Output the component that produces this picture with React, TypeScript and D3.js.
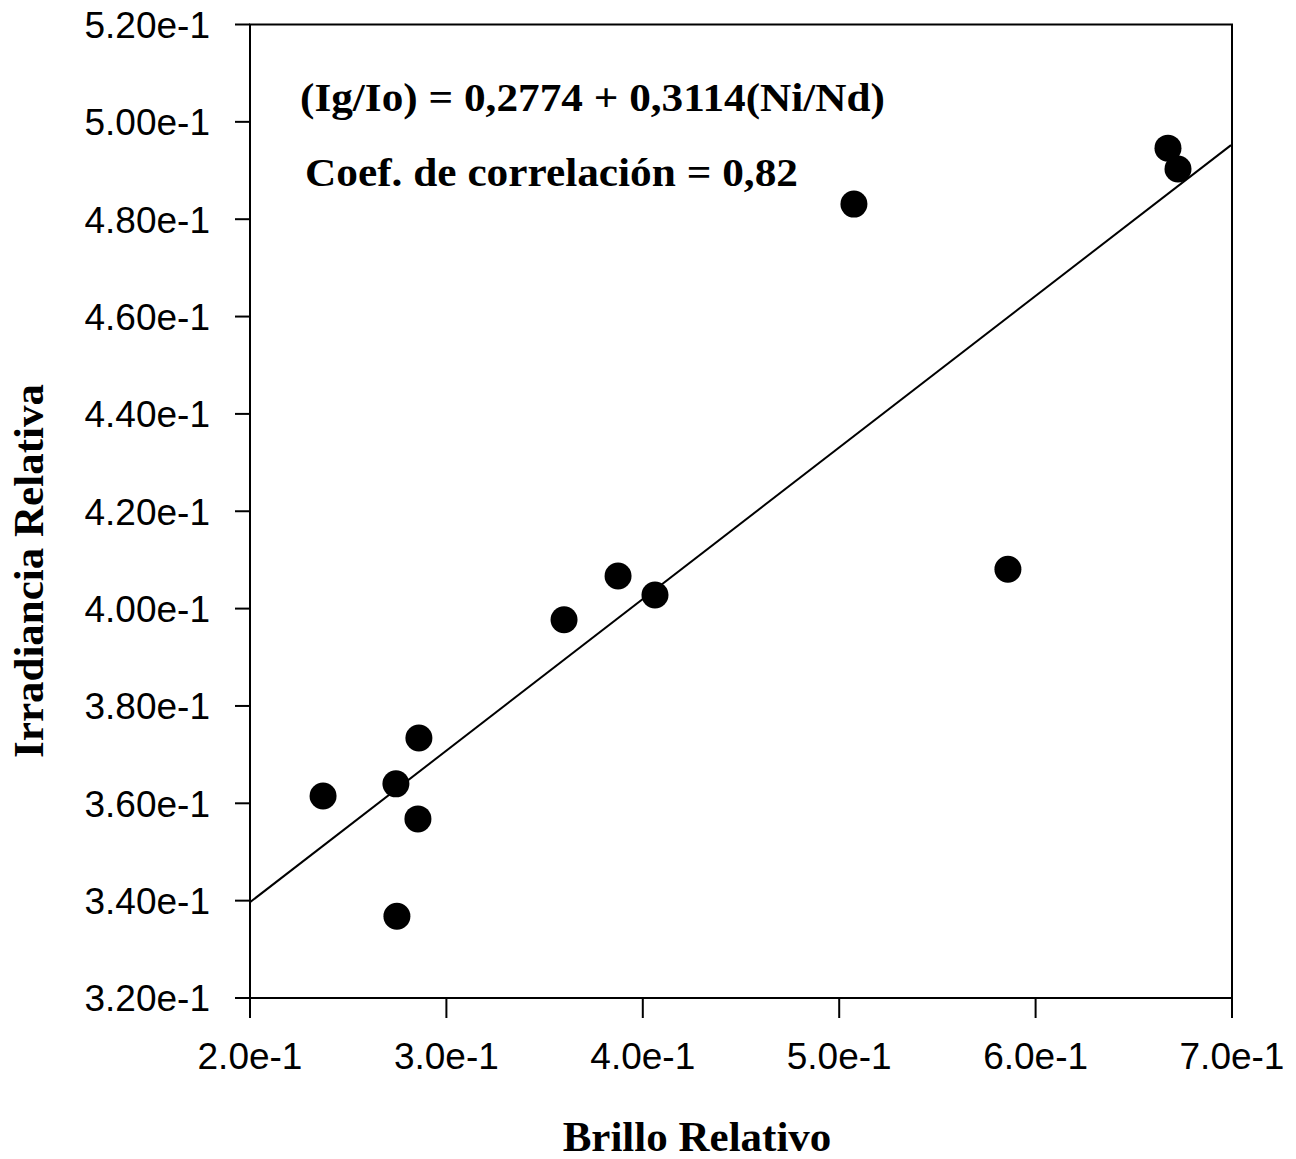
import * as d3 from "d3";

// brillo relativo (x) and irradiancia relativa (y)
const brillo = [0.2372, 0.2743, 0.286, 0.2855, 0.2748, 0.3599, 0.3874, 0.4062, 0.5075, 0.5859, 0.6674, 0.6725];
const irradiancia = [0.3615, 0.364, 0.3734, 0.3568, 0.3368, 0.3977, 0.4067, 0.4028, 0.4831, 0.4081, 0.4946, 0.4903];

const xTicks = [0.2, 0.3, 0.4, 0.5, 0.6, 0.7];
const xTickLabels = ["2.0e-1", "3.0e-1", "4.0e-1", "5.0e-1", "6.0e-1", "7.0e-1"];
const yTicks = [0.32, 0.34, 0.36, 0.38, 0.4, 0.42, 0.44, 0.46, 0.48, 0.5, 0.52];
const yTickLabels = [
  "3.20e-1", "3.40e-1", "3.60e-1", "3.80e-1", "4.00e-1", "4.20e-1",
  "4.40e-1", "4.60e-1", "4.80e-1", "5.00e-1", "5.20e-1",
];

const intercept = 0.2774;
const slope = 0.3114;
const fitRange = [0.2, 0.6995];

const W = 1296;
const H = 1159;
const left = 250;
const right = 1232;
const top = 24.5;
const bottom = 998;

const sansFont = "'Liberation Sans', Arial, sans-serif";
const serifFont = "'Liberation Serif', 'Times New Roman', serif";

export default function App() {
  const x = d3.scaleLinear().domain([0.2, 0.7]).range([left, right]);
  const y = d3.scaleLinear().domain([0.32, 0.52]).range([bottom, top]);

  const fitLine = d3
    .line<number>()
    .x((d) => x(d))
    .y((d) => y(intercept + slope * d))(fitRange);

  return (
    <svg
      width={W}
      height={H}
      style={{ position: "absolute", left: 0, top: 0, background: "#fff" }}
    >
      {/* frame */}
      <rect
        x={left}
        y={top}
        width={right - left}
        height={bottom - top}
        fill="none"
        stroke="#000"
        strokeWidth={2}
      />

      {/* y axis ticks + labels */}
      {yTicks.map((t, i) => (
        <g key={t}>
          <line x1={left - 15} x2={left} y1={y(t)} y2={y(t)} stroke="#000" strokeWidth={2} />
          <text
            x={210}
            y={y(t)}
            dy="0.36em"
            textAnchor="end"
            fontFamily={sansFont}
            fontSize={37}
            fill="#000"
          >
            {yTickLabels[i]}
          </text>
        </g>
      ))}

      {/* x axis ticks + labels */}
      {xTicks.map((t, i) => (
        <g key={t}>
          <line x1={x(t)} x2={x(t)} y1={bottom} y2={bottom + 20} stroke="#000" strokeWidth={2} />
          <text
            x={x(t)}
            y={1069}
            textAnchor="middle"
            fontFamily={sansFont}
            fontSize={37}
            fill="#000"
          >
            {xTickLabels[i]}
          </text>
        </g>
      ))}

      {/* regression line */}
      <path d={fitLine ?? ""} fill="none" stroke="#000" strokeWidth={2} />

      {/* points */}
      {brillo.map((b, i) => (
        <circle key={i} cx={x(b)} cy={y(irradiancia[i])} r={13.5} fill="#000" />
      ))}

      {/* annotations */}
      <text
        x={300}
        y={111}
        fontFamily={serifFont}
        fontWeight="bold"
        fontSize={41}
        textLength={585}
        lengthAdjust="spacingAndGlyphs"
        fill="#000"
      >
        (Ig/Io) = 0,2774 + 0,3114(Ni/Nd)
      </text>
      <text
        x={305}
        y={186}
        fontFamily={serifFont}
        fontWeight="bold"
        fontSize={41}
        textLength={493}
        lengthAdjust="spacingAndGlyphs"
        fill="#000"
      >
        Coef. de correlación = 0,82
      </text>

      {/* axis titles */}
      <text
        x={697}
        y={1151}
        textAnchor="middle"
        fontFamily={serifFont}
        fontWeight="bold"
        fontSize={43}
        fill="#000"
      >
        Brillo Relativo
      </text>
      <text
        transform="translate(43,571) rotate(-90)"
        textAnchor="middle"
        fontFamily={serifFont}
        fontWeight="bold"
        fontSize={43}
        fill="#000"
      >
        Irradiancia Relativa
      </text>
    </svg>
  );
}
